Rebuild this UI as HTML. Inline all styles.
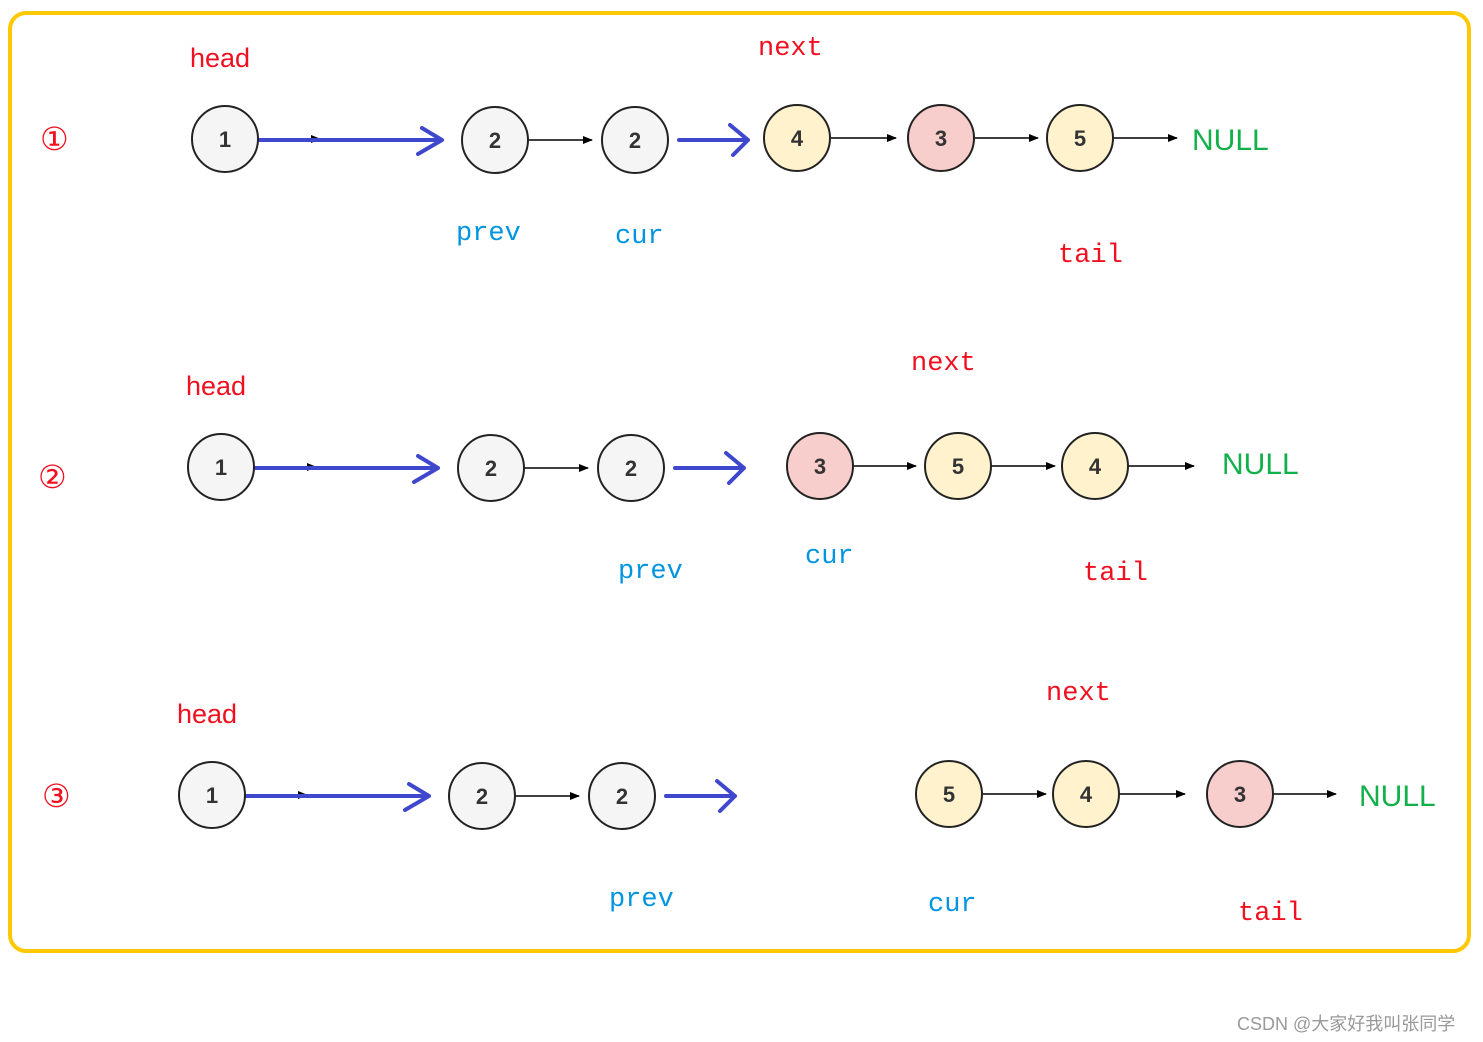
<!DOCTYPE html>
<html><head><meta charset="utf-8"><style>
html,body{margin:0;padding:0;background:#fff;width:1483px;height:1042px;overflow:hidden}
.m{font-family:"Liberation Mono",monospace;font-size:27px}
.s{font-family:"Liberation Sans",sans-serif}
</style></head><body>
<svg width="1483" height="1042" xmlns="http://www.w3.org/2000/svg">
<defs>
<marker id="a" markerWidth="10" markerHeight="10" refX="9" refY="5" orient="auto" markerUnits="userSpaceOnUse"><path d="M0,1 L10,5 L0,9 Z" fill="#000"/></marker>
</defs>
<rect x="10" y="13" width="1459" height="938" rx="16" fill="none" stroke="#FFC800" stroke-width="4"/>
<g id="g" font-family="Liberation Sans,sans-serif" font-weight="bold" font-size="22" text-anchor="middle" fill="#333">
</g>
<!-- Row 1 -->
<g stroke="#000" stroke-width="1.5" marker-end="url(#a)">
<line x1="528" y1="140" x2="592" y2="140"/><line x1="830" y1="138" x2="896" y2="138"/>
<line x1="974" y1="138" x2="1038" y2="138"/><line x1="1113" y1="138" x2="1177" y2="138"/>
<line x1="258" y1="139" x2="320" y2="139"/>
<line x1="524" y1="468" x2="588" y2="468"/><line x1="853" y1="466" x2="916" y2="466"/>
<line x1="991" y1="466" x2="1055" y2="466"/><line x1="1128" y1="466" x2="1194" y2="466"/>
<line x1="254" y1="467" x2="316" y2="467"/>
<line x1="515" y1="796" x2="579" y2="796"/><line x1="982" y1="794" x2="1046" y2="794"/>
<line x1="1119" y1="794" x2="1185" y2="794"/><line x1="1273" y1="794" x2="1336" y2="794"/>
<line x1="245" y1="795" x2="307" y2="795"/>
</g>
<g stroke="#3F48CC" stroke-width="4" fill="none" stroke-linecap="round" stroke-linejoin="round">
<path d="M259,140 H442 M422,128 L442,140 L418,154"/>
<path d="M679,140 H748 M730,125 L748,140 L733,155"/>
<path d="M255,468 H438 M418,456 L438,468 L414,482"/>
<path d="M675,468 H744 M726,453 L744,468 L729,483"/>
<path d="M246,796 H429 M409,784 L429,796 L405,810"/>
<path d="M666,796 H735 M717,781 L735,796 L720,811"/>
</g>
<g stroke="#222" stroke-width="2" font-family="Liberation Sans,sans-serif" font-weight="bold" font-size="22" text-anchor="middle">
<circle cx="225" cy="139" r="33" fill="#F5F5F5"/><circle cx="495" cy="140" r="33" fill="#F5F5F5"/><circle cx="635" cy="140" r="33" fill="#F5F5F5"/>
<circle cx="797" cy="138" r="33" fill="#FFF2CC"/><circle cx="941" cy="138" r="33" fill="#F8CECC"/><circle cx="1080" cy="138" r="33" fill="#FFF2CC"/>
<circle cx="221" cy="467" r="33" fill="#F5F5F5"/><circle cx="491" cy="468" r="33" fill="#F5F5F5"/><circle cx="631" cy="468" r="33" fill="#F5F5F5"/>
<circle cx="820" cy="466" r="33" fill="#F8CECC"/><circle cx="958" cy="466" r="33" fill="#FFF2CC"/><circle cx="1095" cy="466" r="33" fill="#FFF2CC"/>
<circle cx="212" cy="795" r="33" fill="#F5F5F5"/><circle cx="482" cy="796" r="33" fill="#F5F5F5"/><circle cx="622" cy="796" r="33" fill="#F5F5F5"/>
<circle cx="949" cy="794" r="33" fill="#FFF2CC"/><circle cx="1086" cy="794" r="33" fill="#FFF2CC"/><circle cx="1240" cy="794" r="33" fill="#F8CECC"/>
<g stroke="none" fill="#333">
<text x="225" y="147">1</text><text x="495" y="148">2</text><text x="635" y="148">2</text><text x="797" y="146">4</text><text x="941" y="146">3</text><text x="1080" y="146">5</text>
<text x="221" y="475">1</text><text x="491" y="476">2</text><text x="631" y="476">2</text><text x="820" y="474">3</text><text x="958" y="474">5</text><text x="1095" y="474">4</text>
<text x="212" y="803">1</text><text x="482" y="804">2</text><text x="622" y="804">2</text><text x="949" y="802">5</text><text x="1086" y="802">4</text><text x="1240" y="802">3</text>
</g></g>
<g font-family="Liberation Sans,sans-serif" font-size="27" fill="#F01020">
<text x="190" y="67">head</text><text x="186" y="395">head</text><text x="177" y="723">head</text>
<text x="40" y="150" font-size="32">①</text><text x="38" y="488" font-size="32">②</text><text x="42" y="807" font-size="32">③</text>
</g>
<g class="m" fill="#F01020">
<text x="758" y="55">next</text><text x="911" y="370">next</text><text x="1046" y="700">next</text>
<text x="1058" y="262">tail</text><text x="1083" y="580">tail</text><text x="1238" y="920">tail</text>
</g>
<g class="m" fill="#0095E0">
<text x="456" y="240">prev</text><text x="615" y="243">cur</text>
<text x="618" y="578">prev</text><text x="805" y="563">cur</text>
<text x="609" y="906">prev</text><text x="928" y="911">cur</text>
</g>
<g font-family="Liberation Sans,sans-serif" font-size="30" fill="#12B04A">
<text x="1192" y="150">NULL</text><text x="1222" y="474">NULL</text><text x="1359" y="806">NULL</text>
</g>
<text x="1237" y="1030" font-family="Liberation Sans,'Noto Sans CJK SC',sans-serif" font-size="18" fill="#999">CSDN @大家好我叫张同学</text>
</svg>
</body></html>
